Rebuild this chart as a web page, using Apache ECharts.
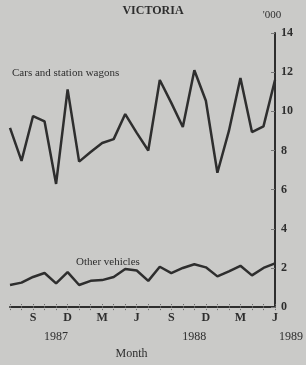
<!DOCTYPE html>
<html>
<head>
<meta charset="utf-8">
<script src="https://cdn.jsdelivr.net/npm/echarts@6/dist/echarts.min.js"></script>
<style>
    html, body { margin: 0; padding: 0; background: #cacac8; }
    #chart { width: 306px; height: 365px; }
</style>
</head>
<body>
<div id="chart"></div>
<script>
    // months Jul 1987 - Jun 1989
    var months = ['Jul87','Aug87','Sep87','Oct87','Nov87','Dec87','Jan88','Feb88','Mar88','Apr88','May88','Jun88',
                  'Jul88','Aug88','Sep88','Oct88','Nov88','Dec88','Jan89','Feb89','Mar89','Apr89','May89','Jun89'];
    var monthInitials = {Sep87:'S', Dec87:'D', Mar88:'M', Jun88:'J', Sep88:'S', Dec88:'D', Mar89:'M', Jun89:'J'};
    var yearLabels = {Nov87:'1987', Nov88:'1988', Jun89:'1989'};
    // thousands
    var carsWagons = [9.15, 7.47, 9.76, 9.48, 6.29, 11.12, 7.43, 7.92, 8.38, 8.58, 9.86, 8.9,
                      8.0, 11.6, 10.43, 9.2, 12.1, 10.54, 6.86, 9.0, 11.7, 8.94, 9.23, 11.6];
    var otherVehicles = [1.13, 1.25, 1.54, 1.74, 1.21, 1.79, 1.13, 1.34, 1.38, 1.54, 1.95, 1.87,
                         1.34, 2.06, 1.74, 2.0, 2.19, 2.03, 1.57, 1.83, 2.11, 1.62, 2.0, 2.23];

    var serif = '"Liberation Serif", "DejaVu Serif", serif';
    var ink = '#2e2e2e';

    var myChart = echarts.init(document.getElementById('chart'));
    myChart.setOption({
        backgroundColor: '#cacac8',
        animation: false,
        title: {
            text: 'VICTORIA',
            left: 'center',
            top: 0,
            textStyle: { fontFamily: serif, fontSize: 12, fontWeight: 'bold', color: ink }
        },
        grid: { left: 10, right: 19, top: 33, bottom: 47 },
        xAxis: [
            {
                type: 'category',
                boundaryGap: false,
                data: months,
                axisLine: { lineStyle: { color: ink, width: 2 } },
                axisTick: { inside: true, length: 4, lineStyle: { color: '#666', type: 'dotted' } },
                axisLabel: {
                    interval: 0,
                    margin: 5,
                    fontFamily: serif, fontSize: 12, fontWeight: 'bold', color: ink,
                    formatter: function (v) { return monthInitials[v] || ''; }
                }
            },
            {
                type: 'category',
                boundaryGap: false,
                data: months,
                position: 'bottom',
                axisLine: { show: false },
                axisTick: { length: 3, lineStyle: { color: '#666', type: 'dotted' } },
                axisLabel: {
                    interval: 0,
                    margin: 24,
                    fontFamily: serif, fontSize: 12, color: ink,
                    formatter: function (v) {
                        var y = yearLabels[v];
                        if (!y) return '';
                        return v === 'Jun89' ? '{r|' + y + '}' : y;
                    },
                    rich: { r: { fontFamily: serif, fontSize: 12, color: ink, padding: [0, 0, 0, 32] } }
                },
                name: 'Month',
                nameLocation: 'middle',
                nameGap: 34,
                nameTextStyle: { fontFamily: serif, fontSize: 12, color: ink, padding: [0, 22, 0, 0] }
            }
        ],
        yAxis: {
            type: 'value',
            position: 'right',
            min: 0,
            max: 14,
            interval: 2,
            name: "'000",
            nameGap: 12,
            nameTextStyle: { fontFamily: serif, fontSize: 11, color: ink, padding: [0, 6, 0, 0] },
            axisLine: { show: true, lineStyle: { color: ink, width: 2 } },
            axisTick: { show: true, inside: true, length: 4, lineStyle: { color: '#777' } },
            axisLabel: { margin: 6, fontFamily: serif, fontSize: 12, fontWeight: 'bold', color: ink },
            splitLine: { show: false }
        },
        graphic: [
            { type: 'text', left: 12, top: 68, style: { text: 'Cars and station wagons', font: '11px ' + serif, fill: ink } },
            { type: 'text', left: 76, top: 257, style: { text: 'Other vehicles', font: '11px ' + serif, fill: ink } }
        ],
        series: [
            {
                name: 'Cars and station wagons',
                type: 'line',
                data: carsWagons,
                showSymbol: false,
                lineStyle: { color: '#2e2e2e', width: 2.5 }
            },
            {
                name: 'Other vehicles',
                type: 'line',
                data: otherVehicles,
                showSymbol: false,
                lineStyle: { color: '#2e2e2e', width: 2.5 }
            }
        ]
    });
</script>
</body>
</html>
